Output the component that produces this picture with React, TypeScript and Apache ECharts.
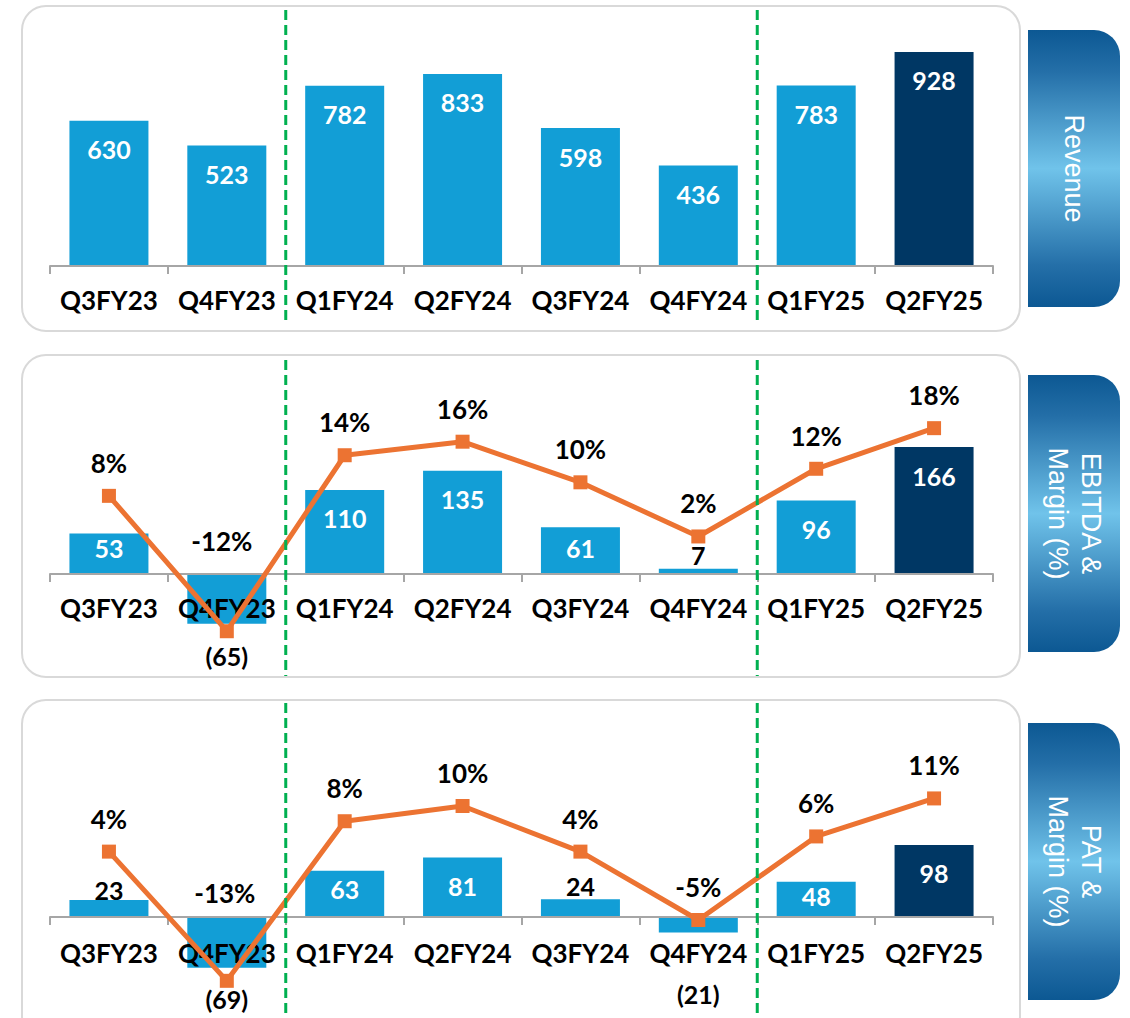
import React, { useEffect, useRef } from "react";
import * as echarts from "echarts";

const categories = ["Q3FY23", "Q4FY23", "Q1FY24", "Q2FY24", "Q3FY24", "Q4FY24", "Q1FY25", "Q2FY25"];
const revenue = [630, 523, 782, 833, 598, 436, 783, 928];
const ebitda = [53, -65, 110, 135, 61, 7, 96, 166];
const ebitdaMargin = [8, -12, 14, 16, 10, 2, 12, 18];
const pat = [23, -69, 63, 81, 24, -21, 48, 98];
const patMargin = [4, -13, 8, 10, 4, -5, 6, 11];
const panelTitles = ["Revenue", "EBITDA &\nMargin (%)", "PAT &\nMargin (%)"];

const BLUE = "#129ed6";
const NAVY = "#003764";
const ORANGE = "#ec7332";
const GREEN = "#00b050";
const AXIS = "#a6a6a6";
const FONT = "Lato";

const W = 1130;
const H = 1018;
const GRID_LEFT = 50;
const GRID_RIGHT = 137;

type LabelOpt = Record<string, any>;

const inside = (distance: number): LabelOpt => ({ position: "insideTop", distance, color: "#fff" });
const insideBottom = (distance: number): LabelOpt => ({ position: "insideBottom", distance, color: "#fff" });
const above = (distance: number): LabelOpt => ({ position: "top", distance, color: "#000" });
const below = (distance: number): LabelOpt => ({ position: "outside", distance, color: "#000" });

const revenueLabels: LabelOpt[] = revenue.map(() => inside(16));
const ebitdaLabels: LabelOpt[] = [insideBottom(14), below(20), inside(16), inside(16), insideBottom(14), above(1), inside(16), inside(16)];
const patLabels: LabelOpt[] = [above(-2), below(19), inside(6), inside(16), above(1), below(49), { position: "inside", offset: [0, -3], color: "#fff" }, inside(16)];

const fmtBar = (v: number) => (v < 0 ? `(${-v})` : `${v}`);

function barData(values: number[], labels: LabelOpt[]) {
  return values.map((v, i) => ({
    value: v,
    itemStyle: { color: i === values.length - 1 ? NAVY : BLUE },
    label: { show: true, ...labels[i] },
  }));
}

function lineData(values: number[], offsets: Record<number, number[]>) {
  return values.map((v, i) => ({
    value: v,
    label: offsets[i] ? { offset: offsets[i] } : {},
  }));
}

const App: React.FC = () => {
  const ref = useRef<HTMLDivElement>(null);

  useEffect(() => {
    document.body.style.margin = "0";
    if (!ref.current) return;
    const chart = echarts.init(ref.current, null, { renderer: "svg" });

    const grids = [
      { left: GRID_LEFT, right: GRID_RIGHT, top: 40, height: 226, outerBoundsMode: "none", containLabel: false },
      { left: GRID_LEFT, right: GRID_RIGHT, top: 400, height: 260, outerBoundsMode: "none", containLabel: false },
      { left: GRID_LEFT, right: GRID_RIGHT, top: 745, height: 265, outerBoundsMode: "none", containLabel: false },
    ];
    // distance of the zero line above each grid's bottom edge
    const zeroLift = [0, 86, 93];
    const labelMargins = [21, 21, 23];

    const xAxes = grids.map((_, g) => ({
      type: "category",
      gridIndex: g,
      data: categories,
      position: "bottom",
      offset: -zeroLift[g],
      z: 3,
      axisLine: { show: true, onZero: false, lineStyle: { color: AXIS, width: 2 } },
      axisTick: { show: true, length: 8, lineStyle: { color: AXIS, width: 2 } },
      axisLabel: { color: "#000", fontFamily: FONT, fontWeight: "bold", fontSize: 26, margin: labelMargins[g], interval: 0 },
    }));

    const yAxes = [
      { type: "value", gridIndex: 0, min: 0, max: 980, show: false },
      { type: "value", gridIndex: 1, min: -112.4, max: 227.5, show: false },
      { type: "value", gridIndex: 1, min: -16.25, max: 22.16, show: false },
      { type: "value", gridIndex: 2, min: -126.5, max: 234, show: false },
      { type: "value", gridIndex: 2, min: -16.84, max: 18.03, show: false },
    ];

    const barLabelBase = { fontFamily: FONT, fontWeight: "bold", fontSize: 25, formatter: (p: any) => fmtBar(p.value) };
    const lineLabel = {
      show: true,
      position: "top",
      distance: 13,
      color: "#000",
      fontFamily: FONT,
      fontWeight: "bold",
      fontSize: 26,
      formatter: (p: any) => `${p.value}%`,
    };
    const lineCommon = {
      type: "line",
      symbol: "rect",
      symbolSize: 14,
      z: 4,
      lineStyle: { color: ORANGE, width: 5 },
      itemStyle: { color: ORANGE },
      label: lineLabel,
    };

    const series: any[] = [
      { type: "bar", xAxisIndex: 0, yAxisIndex: 0, barWidth: 79, label: barLabelBase, data: barData(revenue, revenueLabels) },
      { type: "bar", xAxisIndex: 1, yAxisIndex: 1, barWidth: 79, label: barLabelBase, data: barData(ebitda, ebitdaLabels) },
      { ...lineCommon, xAxisIndex: 1, yAxisIndex: 2, data: lineData(ebitdaMargin, { 1: [-5, -57] }) },
      { type: "bar", xAxisIndex: 2, yAxisIndex: 3, barWidth: 79, label: barLabelBase, data: barData(pat, patLabels) },
      { ...lineCommon, xAxisIndex: 2, yAxisIndex: 4, data: lineData(patMargin, { 1: [-2, -55] }) },
    ];

    const bandW = (W - GRID_LEFT - GRID_RIGHT) / categories.length;
    const dividerX = [GRID_LEFT + 2 * bandW, GRID_LEFT + 6 * bandW];
    const panels = [
      { y: 6, h: 325, lineTop: 10, lineBottom: 322, tagY: 30 },
      { y: 355, h: 322, lineTop: 360, lineBottom: 676, tagY: 375 },
      { y: 700, h: 340, lineTop: 703, lineBottom: 1018, tagY: 723 },
    ];
    const tagW = 92;
    const tagH = 277;
    const tagX = 1028;

    const graphics: any[] = [];
    panels.forEach((p, i) => {
      graphics.push({
        type: "rect",
        z: -10,
        shape: { x: 22, y: p.y, width: 998, height: p.h, r: 24 },
        style: { fill: "#fff", stroke: "#d9d9d9", lineWidth: 2 },
      });
      dividerX.forEach((x) => {
        graphics.push({
          type: "line",
          z: 10,
          shape: { x1: x, y1: p.lineTop, x2: x, y2: p.lineBottom },
          style: { stroke: GREEN, lineWidth: 3, lineDash: [10, 5] },
        });
      });
      graphics.push({
        type: "rect",
        z: 1,
        shape: { x: tagX, y: p.tagY, width: tagW, height: tagH, r: [0, 26, 26, 0] },
        style: {
          fill: new echarts.graphic.LinearGradient(0, 0, 0, 1, [
            { offset: 0, color: "#0c5893" },
            { offset: 0.15, color: "#246fa8" },
            { offset: 0.5, color: "#70c3ea" },
            { offset: 0.85, color: "#246fa8" },
            { offset: 1, color: "#0c5893" },
          ]),
        },
      });
      graphics.push({
        type: "text",
        z: 2,
        x: tagX + tagW / 2,
        y: p.tagY + tagH / 2,
        rotation: -Math.PI / 2,
        style: {
          text: panelTitles[i],
          fill: "#fff",
          font: '27px "Liberation Sans", Arial, sans-serif',
          align: "center",
          verticalAlign: "middle",
          lineHeight: 33,
        },
      });
    });

    chart.setOption({
      animation: false,
      backgroundColor: "#fff",
      grid: grids,
      xAxis: xAxes,
      yAxis: yAxes,
      series,
      graphic: { elements: graphics },
    });

    return () => chart.dispose();
  }, []);

  return <div ref={ref} style={{ width: W, height: H }} />;
};

export default App;
